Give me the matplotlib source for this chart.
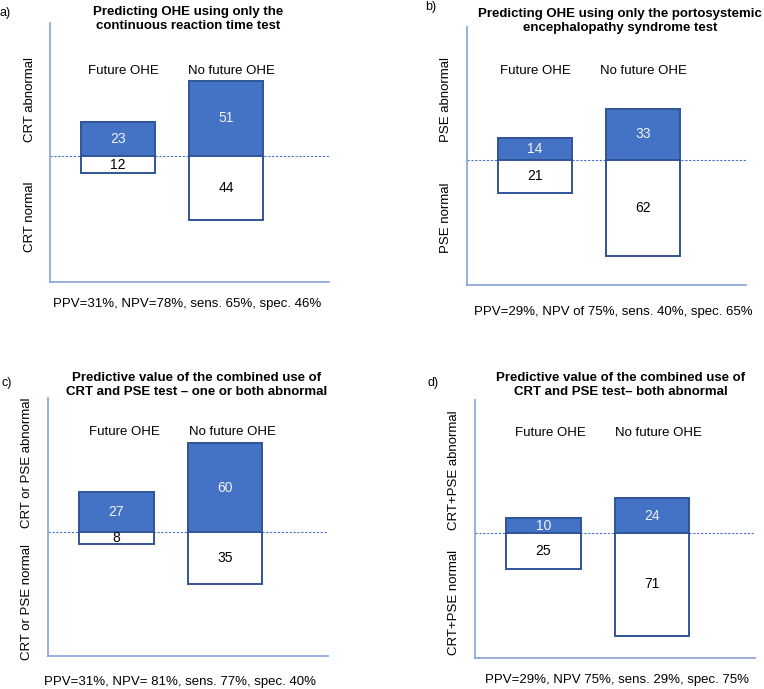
import numpy as np
import matplotlib
matplotlib.use("Agg")
from matplotlib import pyplot as plt

plt.rcParams['font.family'] = ['Liberation Sans', 'DejaVu Sans']

# data: counts per panel (a, b, c, d)
groups = ['Future OHE', 'No future OHE']
abnormal_future = [23, 14, 27, 10]
abnormal_nofuture = [51, 33, 60, 24]
normal_future = [12, 21, 8, 25]
normal_nofuture = [44, 62, 35, 71]

panel_tags = ['a)', 'b)', 'c)', 'd)']
titles = ['Predicting OHE using only the\ncontinuous reaction time test',
          'Predicting OHE using only the portosystemic\nencephalopathy syndrome test',
          'Predictive value of the combined use of\nCRT and PSE test \u2013 one or both abnormal',
          'Predictive value of the combined use of\nCRT and PSE test\u2013 both abnormal']
ylab_abn = ['CRT abnormal', 'PSE abnormal', 'CRT or PSE abnormal', 'CRT+PSE abnormal']
ylab_norm = ['CRT normal', 'PSE normal', 'CRT or PSE normal', 'CRT+PSE normal']
footers = ['PPV=31%, NPV=78%, sens. 65%, spec. 46%',
           'PPV=29%, NPV of 75%, sens. 40%, spec. 65%',
           'PPV=31%, NPV= 81%, sens. 77%, spec. 40%',
           'PPV=29%, NPV 75%, sens. 29%, spec. 75%']

W, H = 764, 689
blue = '#4472C4'
edge = '#2F5597'
spine_c = '#8EA9DB'

# layout in pixels: axes (left, top, right, bottom)
boxes = [(50, 23, 329, 282), (467, 27, 746, 285), (48, 398, 328, 656), (475, 400, 755, 658)]
ylims = [(-86, 90.5), (-80.6, 85.8), (-83.8, 90.5), (-86.2, 91.7)]
grp_y = [0.815, 0.83, 0.87, 0.872]
grp_dx = [0.05, 0.0, 0.07, 0.06]
title_pos = [(188, 19), (620, 21), (197, 385), (621, 385)]
tag_pos = [(0, 13), (425, 7), (1, 383), (427, 383)]
ylab_x = [30, 446, 27, 454]
ylab_abn_y = [100, 100, 463, 470]
ylab_norm_y = [217, 218, 602, 602]
foot_pos = [(187, 304), (613, 312), (180, 682), (617, 680)]


def fx(x):
    return x / W


def fy(y):
    return 1 - y / H


fig = plt.figure(figsize=(W / 100, H / 100), dpi=100)

for i in range(4):
    l, t, r, b = boxes[i]
    ax = fig.add_axes([fx(l), fy(b), (r - l) / W, (b - t) / H])
    x = np.arange(2)
    up = [abnormal_future[i], abnormal_nofuture[i]]
    down = [normal_future[i], normal_nofuture[i]]
    ax.bar(x, up, width=0.685, color=blue, edgecolor=edge, linewidth=1.4, zorder=3)
    ax.bar(x, [-d for d in down], width=0.685, color='white', edgecolor=edge, linewidth=1.4, zorder=3)
    ax.axhline(0, color=blue, lw=0.8, ls=(0, (2, 1.5)), zorder=2)
    for xi, u, d in zip(x, up, down):
        ax.text(xi, u / 2, str(u), ha='center', va='center', color='#F2F2F2', fontsize=10, zorder=4)
        ax.text(xi, -d / 2, str(d), ha='center', va='center', color='black', fontsize=10, zorder=4)
    for xi, g in zip(x, groups):
        ax.text(xi + grp_dx[i], grp_y[i], g, transform=ax.get_xaxis_transform(),
                ha='center', va='center', fontsize=9.5)
    ax.set_xlim(-0.63, 1.95)
    ax.set_ylim(*ylims[i])
    ax.set_xticks([])
    ax.set_yticks([])
    for s in ['top', 'right']:
        ax.spines[s].set_visible(False)
    for s in ['left', 'bottom']:
        ax.spines[s].set_color(spine_c)
        ax.spines[s].set_linewidth(1.3)

    fig.text(fx(title_pos[i][0]), fy(title_pos[i][1]), titles[i], ha='center', va='center',
             fontsize=9.5, fontweight='bold', linespacing=1.25)
    fig.text(fx(tag_pos[i][0]), fy(tag_pos[i][1]), panel_tags[i], ha='left', va='center', fontsize=9)
    fig.text(fx(ylab_x[i]), fy(ylab_abn_y[i]), ylab_abn[i], rotation=90, ha='center', va='center', fontsize=9.5)
    fig.text(fx(ylab_x[i]), fy(ylab_norm_y[i]), ylab_norm[i], rotation=90, ha='center', va='center', fontsize=9.5)
    fig.text(fx(foot_pos[i][0]), fy(foot_pos[i][1]), footers[i], ha='center', va='center', fontsize=9.5)

fig.savefig('out.png', dpi=100)
